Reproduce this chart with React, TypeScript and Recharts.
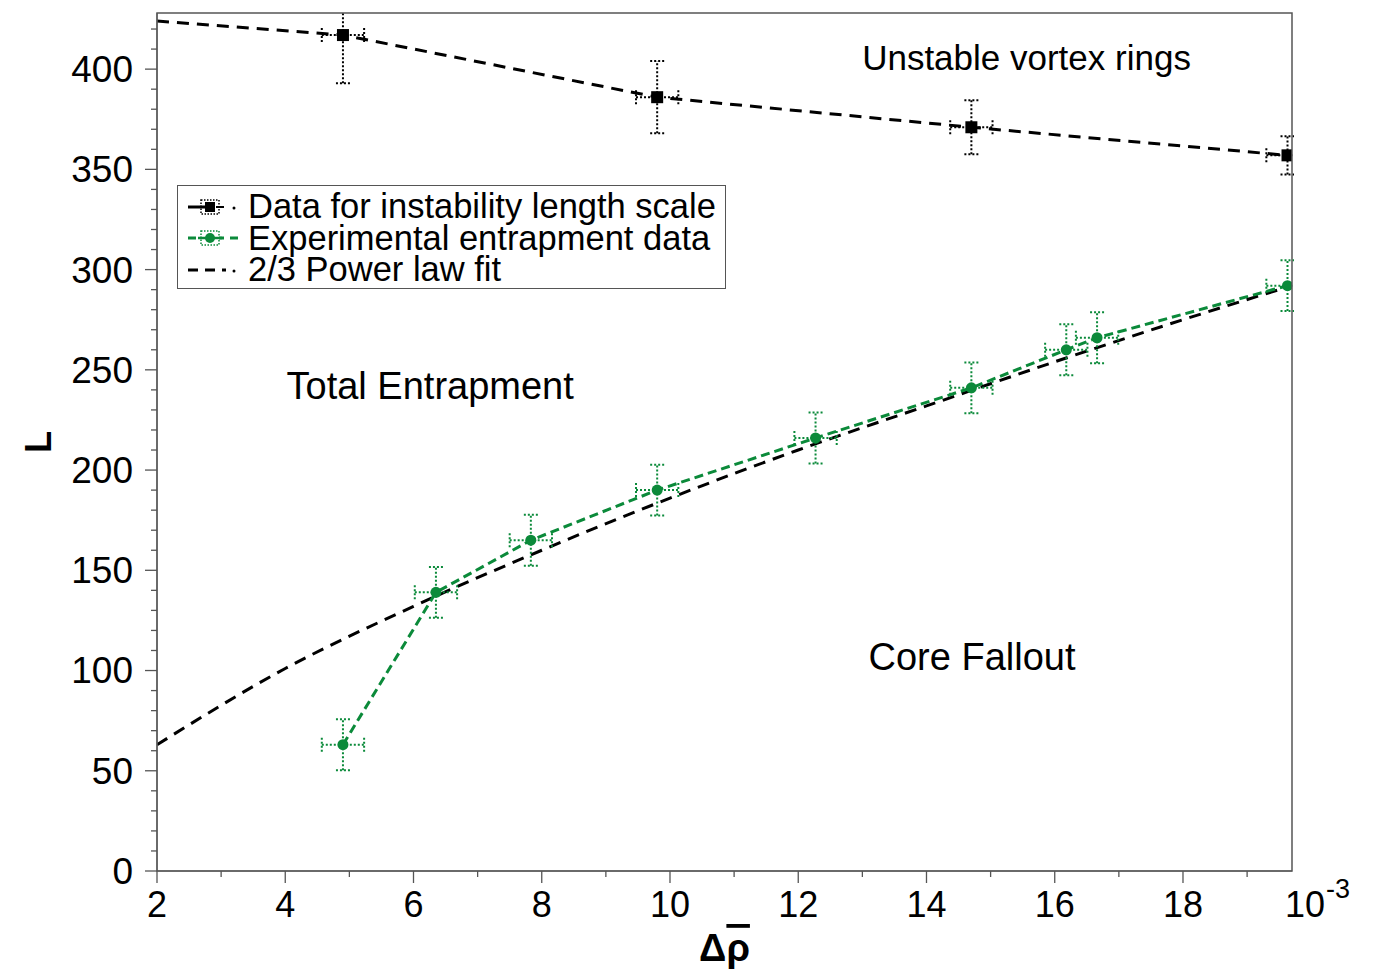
import React from "react";
import {
  ComposedChart,
  Line,
  Scatter,
  ErrorBar,
  XAxis,
  YAxis,
  Legend,
  ReferenceDot,
} from "recharts";

// instability length scale data (black squares)
const instX = [4.9, 9.8, 14.7, 19.63];
const instL = [417, 386, 371, 357];
const instErrL = [24, 18, 13.5, 9.5];
const instErrX = [0.33, 0.33, 0.33, 0.33];

// dashed line through the instability data, reaching the left edge
const instLineX = [2, 4.9, 9.8, 14.7, 19.63];
const instLineL = [424, 417, 386, 371, 357];

// experimental entrapment data (green circles)
const entX = [4.9, 6.35, 7.83, 9.8, 12.27, 14.7, 16.18, 16.66, 19.63];
const entL = [63, 139, 165, 190, 216, 241, 260, 266, 292];
const entErrL = [12.7, 12.7, 12.7, 12.7, 12.7, 12.7, 12.7, 12.7, 12.7];
const entErrX = [0.33, 0.33, 0.33, 0.33, 0.33, 0.33, 0.33, 0.33, 0.33];

// 2/3 power law fit
const fitX = [2, 4, 6, 8, 10, 12, 14, 16, 18, 19.7];
const fitL = [63, 101, 132, 160, 186, 210, 232, 254, 275, 292];

const xTicks = [2, 3, 4, 5, 6, 7, 8, 9, 10, 11, 12, 13, 14, 15, 16, 17, 18, 19];
const yTicks = [
  0, 10, 20, 30, 40, 50, 60, 70, 80, 90, 100, 110, 120, 130, 140, 150, 160,
  170, 180, 190, 200, 210, 220, 230, 240, 250, 260, 270, 280, 290, 300, 310,
  320, 330, 340, 350, 360, 370, 380, 390, 400, 410, 420,
];

const GREEN = "#0b8a3a";
const AXIS = "#555";
const FONT = '"Liberation Sans", Arial, Helvetica, sans-serif';

const instData = instX.map((x, i) => ({ x, y: instL[i], ey: instErrL[i], ex: instErrX[i] }));
const instLine = instLineX.map((x, i) => ({ x, y: instLineL[i] }));
const entData = entX.map((x, i) => ({ x, y: entL[i], ey: entErrL[i], ex: entErrX[i] }));
const fitData = fitX.map((x, i) => ({ x, y: fitL[i] }));

const XTick = (props: any) => {
  const { x, y, payload } = props;
  const major = payload.value % 2 === 0;
  return (
    <g>
      <line x1={x} x2={x} y1={y} y2={y + (major ? 12 : 6)} stroke={AXIS} strokeWidth={1.3} />
      {major && (
        <text x={x} y={y + 46} textAnchor="middle" fontSize={36} fill="#000" fontFamily={FONT}>
          {payload.value}
        </text>
      )}
    </g>
  );
};

const YTick = (props: any) => {
  const { x, y, payload } = props;
  const major = payload.value % 50 === 0;
  return (
    <g>
      <line x1={x} x2={x - (major ? 12 : 6)} y1={y} y2={y} stroke={AXIS} strokeWidth={1.3} />
      {major && (
        <text x={x - 24} y={y} dy="0.35em" textAnchor="end" fontSize={37} fill="#000" fontFamily={FONT}>
          {payload.value}
        </text>
      )}
    </g>
  );
};

const XLabel = (props: any) => {
  const { viewBox } = props;
  const cx = viewBox.x + viewBox.width / 2;
  return (
    <text x={cx} y={viewBox.y + 90} textAnchor="middle" fontSize={38} fontWeight="bold" fill="#000" fontFamily={FONT}>
      Δ<tspan style={{ textDecoration: "overline" }}>ρ</tspan>
    </text>
  );
};

const YLabel = (props: any) => {
  const { viewBox } = props;
  const cy = viewBox.y + viewBox.height / 2;
  return (
    <text
      x={30}
      y={cy}
      transform={`rotate(-90 30 ${cy})`}
      textAnchor="middle"
      dy="0.35em"
      fontSize={36}
      fontWeight="bold"
      fill="#000"
      fontFamily={FONT}
    >
      L
    </text>
  );
};

const Square = (p: any) => <rect x={p.cx - 6} y={p.cy - 6} width={12} height={12} fill="#000" />;
const Dot = (p: any) => <circle cx={p.cx} cy={p.cy} r={5.5} fill={GREEN} />;

const LegendIcon = ({ kind }: { kind: number }) => {
  if (kind === 0)
    return (
      <svg width={56} height={30}>
        <line x1={4} x2={26} y1={15} y2={15} stroke="#000" strokeWidth={3} />
        <rect x={17} y={8} width={18} height={14} fill="none" stroke="#000" strokeWidth={1.5} strokeDasharray="1.5 1.5" />
        <rect x={21} y={10} width={10} height={10} fill="#000" />
        <line x1={32} x2={40} y1={15} y2={15} stroke="#000" strokeWidth={2} />
        <circle cx={50} cy={16} r={1.5} fill="#000" />
      </svg>
    );
  if (kind === 1)
    return (
      <svg width={56} height={30}>
        <line x1={4} x2={54} y1={15} y2={15} stroke={GREEN} strokeWidth={3} strokeDasharray="8 6" />
        <rect x={17} y={8} width={18} height={14} fill="#fff" stroke={GREEN} strokeWidth={1.5} strokeDasharray="1.5 1.5" />
        <circle cx={26} cy={15} r={5} fill={GREEN} />
        <line x1={14} x2={38} y1={15} y2={15} stroke={GREEN} strokeWidth={2.5} />
      </svg>
    );
  return (
    <svg width={56} height={30}>
      <line x1={4} x2={42} y1={15} y2={15} stroke="#000" strokeWidth={3} strokeDasharray="10 7" />
      <circle cx={50} cy={16} r={1.5} fill="#000" />
    </svg>
  );
};

const legendLabels = [
  "Data for instability length scale",
  "Experimental entrapment data",
  "2/3 Power law fit",
];

const LegendBox = () => (
  <div
    style={{
      width: 549,
      height: 104,
      boxSizing: "border-box",
      border: `1.5px solid ${AXIS}`,
      background: "#fff",
      padding: "5px 0 0 6px",
      fontFamily: FONT,
      fontSize: 34.5,
      color: "#000",
    }}
  >
    {legendLabels.map((label, i) => (
      <div key={label} style={{ display: "flex", alignItems: "center", height: 31.5, whiteSpace: "nowrap" }}>
        <LegendIcon kind={i} />
        <span style={{ marginLeft: 8, lineHeight: "31px", height: 31, display: "block" }}>{label}</span>
      </div>
    ))}
  </div>
);

const errStyle = { strokeWidth: 2, strokeDasharray: "2 2" };

export default function App() {
  return (
    <div style={{ position: "relative", width: 1372, height: 966, fontFamily: FONT }}>
      <ComposedChart width={1372} height={966} margin={{ top: 5, right: 88, left: 49, bottom: 43 }}>
        <XAxis
          type="number"
          dataKey="x"
          domain={[2, 19.7]}
          ticks={xTicks}
          allowDataOverflow
          interval={0}
          stroke={AXIS}
          tickLine={false}
          tickSize={0}
          tickMargin={0}
          tick={<XTick />}
          height={60}
          label={(p: any) => <XLabel {...p} />}
        />
        <YAxis
          type="number"
          dataKey="y"
          domain={[0, 428]}
          ticks={yTicks}
          allowDataOverflow
          interval={0}
          stroke={AXIS}
          tickLine={false}
          tickSize={0}
          tickMargin={0}
          tick={<YTick />}
          width={100}
          label={(p: any) => <YLabel {...p} />}
        />

        <Line
          data={fitData}
          dataKey="y"
          type="monotone"
          stroke="#000"
          strokeWidth={3}
          strokeDasharray="12 8"
          dot={false}
          isAnimationActive={false}
        />
        <Line
          data={instLine}
          dataKey="y"
          type="linear"
          stroke="#000"
          strokeWidth={3}
          strokeDasharray="12 8"
          dot={false}
          isAnimationActive={false}
        />
        <Line
          data={entData}
          dataKey="y"
          type="linear"
          stroke={GREEN}
          strokeWidth={3}
          strokeDasharray="9 5"
          dot={false}
          isAnimationActive={false}
        />

        <Scatter data={instData} shape={Square} isAnimationActive={false}>
          <ErrorBar dataKey="ey" direction="y" width={7} stroke="#000" {...errStyle} />
          <ErrorBar dataKey="ex" direction="x" width={7} stroke="#000" {...errStyle} />
        </Scatter>
        <Scatter data={entData} shape={Dot} isAnimationActive={false}>
          <ErrorBar dataKey="ey" direction="y" width={7} stroke={GREEN} {...errStyle} />
          <ErrorBar dataKey="ex" direction="x" width={7} stroke={GREEN} {...errStyle} />
        </Scatter>

        <ReferenceDot x={15.56} y={406} r={1} fill="none" stroke="none"
          label={{ value: "Unstable vortex rings", position: "center", fontSize: 35, fill: "#000" }} />
        <ReferenceDot x={6.26} y={242} r={1} fill="none" stroke="none"
          label={{ value: "Total Entrapment", position: "center", fontSize: 38, fill: "#000" }} />
        <ReferenceDot x={14.71} y={107} r={1} fill="none" stroke="none"
          label={{ value: "Core Fallout", position: "center", fontSize: 38, fill: "#000" }} />

        <Legend
          layout="vertical"
          align="center"
          verticalAlign="middle"
          content={<LegendBox />}
          wrapperStyle={{ top: 177, left: 169, width: 549 }}
        />
      </ComposedChart>
      {/* white masks: clip marks that spill past the top and right of the frame */}
      <div style={{ position: "absolute", left: 149, top: 0, width: 1150, height: 4.5, background: "#fff" }} />
      <div style={{ position: "absolute", left: 1285.5, top: 0, width: 86, height: 862, background: "#fff" }} />
      {/* plot frame drawn over the masks */}
      <svg style={{ position: "absolute", left: 0, top: 0, pointerEvents: "none" }} width={1372} height={966}>
        <rect x={149} y={5} width={1135} height={858} fill="none" stroke={AXIS} strokeWidth={1.5} />
      </svg>
      <div style={{ position: "absolute", left: 1277, top: 877, fontSize: 36, lineHeight: "40px", color: "#000" }}>
        10
      </div>
      <div style={{ position: "absolute", left: 1318, top: 866, fontSize: 27, lineHeight: "30px", color: "#000" }}>
        -3
      </div>
    </div>
  );
}
